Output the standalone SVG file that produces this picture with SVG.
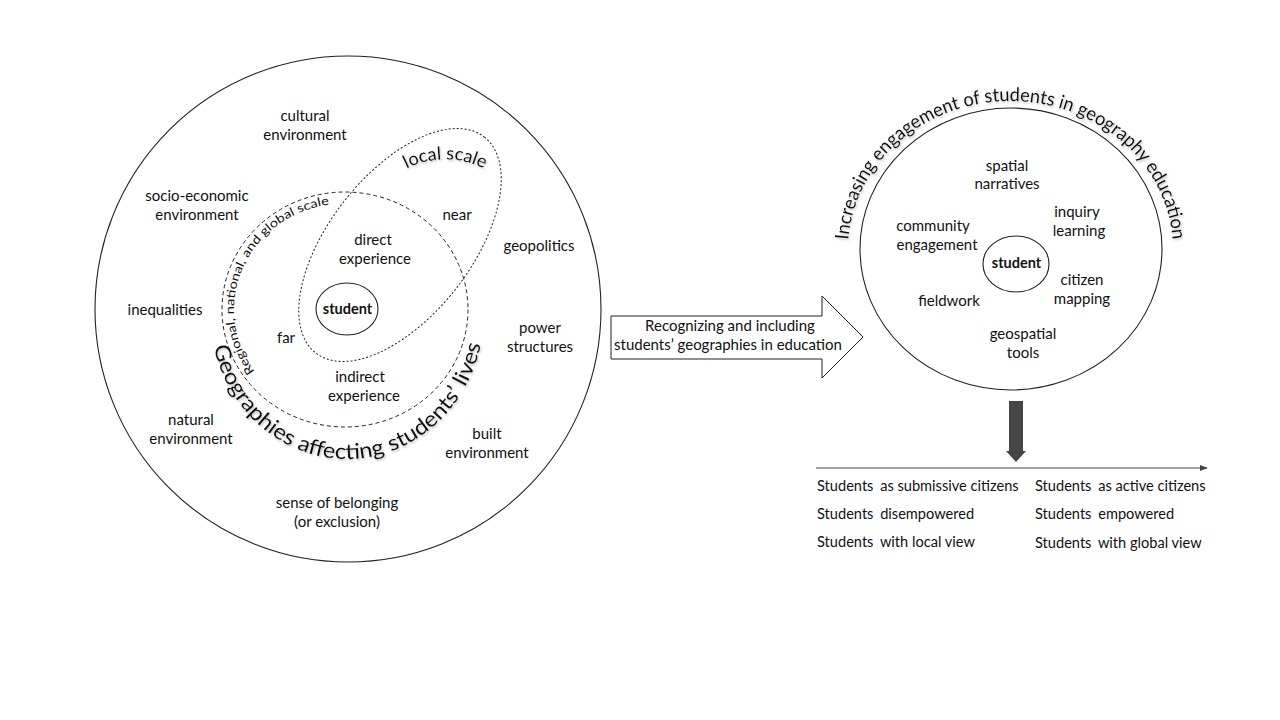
<svg xmlns="http://www.w3.org/2000/svg" xmlns:xlink="http://www.w3.org/1999/xlink" width="1280" height="720" viewBox="0 0 1280 720">
<defs>
<style>
text{font-family:Lato,"Liberation Sans",sans-serif;fill:#111;}
.t{font-size:15px;text-anchor:middle;}
.b{font-size:14.5px;text-anchor:middle;font-weight:bold;}
.l{font-size:14.6px;}
.line{fill:none;stroke:#222;stroke-width:1.1;}
.dot{fill:none;stroke:#222;stroke-width:1;stroke-dasharray:2 2;}
.dash{fill:none;stroke:#222;stroke-width:1;stroke-dasharray:4 3;}
.curve{filter:url(#sh);}
</style>
<filter id="sh" x="-20%" y="-20%" width="140%" height="140%">
<feDropShadow dx="1" dy="1.5" stdDeviation="1.2" flood-color="#888" flood-opacity="0.55"/>
</filter>
<path id="pGeo" d="M 210 313 A 137 146 0 0 0 484 313"/>
<path id="pReg" d="M 289.5 401.3 A 111 106 0 0 1 364.3 205.1"/>
<path id="pLocal" d="M 404 170 A 85 85 0 0 1 490 172"/>
<path id="pTitle" d="M 848 250 A 162.5 149 0 0 1 1173 250"/>
<marker id="ah" viewBox="0 0 10 10" refX="9" refY="5" markerWidth="8" markerHeight="8" markerUnits="userSpaceOnUse" orient="auto">
<path d="M0 1 L10 5 L0 9 Z" fill="#444"/>
</marker>
</defs>
<rect width="1280" height="720" fill="#fff"/>

<g id="left-diagram">
<ellipse class="line" cx="348" cy="309" rx="253" ry="253"/>
<g id="local-scale">
<ellipse class="dot" cx="400" cy="245" rx="137" ry="71" transform="rotate(-52 400 245)"/>
<text class="curve" style="font-size:18px"><textPath xlink:href="#pLocal" startOffset="3">local scale</textPath></text>
</g>
<g id="regional-scale">
<ellipse class="dash" cx="345" cy="309.5" rx="123" ry="117.5"/>
<text style="font-size:12px"><textPath xlink:href="#pReg" startOffset="46" textLength="221" lengthAdjust="spacingAndGlyphs">Regional, national, and global scale</textPath></text>
</g>
<g id="student-left">
<ellipse class="line" cx="347" cy="309" rx="31" ry="26"/>
<text class="b" x="347.5" y="314">student</text>
</g>
<g id="geographies-title">
<text class="curve" style="font-size:21.5px"><textPath xlink:href="#pGeo" startOffset="34" textLength="379" lengthAdjust="spacingAndGlyphs">Geographies affecting students’ lives</textPath></text>
</g>
<g id="labels-left">
<text class="t" x="305" y="121">cultural</text>
<text class="t" x="305" y="140">environment</text>
<text class="t" x="197" y="201">socio-economic</text>
<text class="t" x="197" y="220">environment</text>
<text class="t" x="165" y="315">inequalities</text>
<text class="t" x="191" y="425">natural</text>
<text class="t" x="191" y="444">environment</text>
<text class="t" x="337" y="508">sense of belonging</text>
<text class="t" x="337" y="527">(or exclusion)</text>
<text class="t" x="487" y="439">built</text>
<text class="t" x="487" y="458">environment</text>
<text class="t" x="540" y="333">power</text>
<text class="t" x="540" y="352">structures</text>
<text class="t" x="539" y="251">geopolitics</text>
<text class="t" x="457" y="220">near</text>
<text class="t" x="373" y="245">direct</text>
<text class="t" x="375" y="264">experience</text>
<text class="t" x="286" y="343">far</text>
<text class="t" x="360" y="382">indirect</text>
<text class="t" x="364" y="401">experience</text>
</g>
</g>

<g id="right-diagram">
<ellipse class="line" cx="1011" cy="249" rx="151" ry="141"/>
<text class="curve" style="font-size:19px"><textPath xlink:href="#pTitle" startOffset="10" textLength="469" lengthAdjust="spacingAndGlyphs">Increasing engagement of students in geography education</textPath></text>
<g id="student-right">
<ellipse class="line" cx="1016" cy="264" rx="33" ry="28"/>
<text class="b" x="1016.5" y="268">student</text>
</g>
<g id="labels-right">
<text class="t" x="1007" y="171">spatial</text>
<text class="t" x="1007" y="189">narratives</text>
<text class="t" x="1077" y="217">inquiry</text>
<text class="t" x="1079" y="236">learning</text>
<text class="t" x="933" y="231">community</text>
<text class="t" x="937" y="250">engagement</text>
<text class="t" x="1082" y="285">citizen</text>
<text class="t" x="1082" y="304">mapping</text>
<text class="t" x="949" y="306">fieldwork</text>
<text class="t" x="1023" y="339">geospatial</text>
<text class="t" x="1023" y="358">tools</text>
</g>
</g>

<g id="connectors">
<g id="block-arrow">
<path d="M 611 316 H 822 V 296 L 863 337 L 822 378 V 359 H 611 Z" fill="#fff" stroke="#222" stroke-width="1"/>
<text class="t" x="730" y="331">Recognizing and including</text>
<text class="t" x="728" y="350">students’ geographies in education</text>
</g>
<path id="down-arrow" d="M 1009 401 H 1023 V 451 H 1026 L 1016 462 L 1006 451 H 1009 Z" fill="#454545"/>
<line id="axis" x1="816" y1="468" x2="1207" y2="468" stroke="#444" stroke-width="1" marker-end="url(#ah)"/>
</g>

<g id="axis-labels">
<text class="l" x="817" y="491">Students <tspan dx="3">as submissive citizens</tspan></text>
<text class="l" x="817" y="519">Students <tspan dx="3">disempowered</tspan></text>
<text class="l" x="817" y="547">Students <tspan dx="3">with local view</tspan></text>
<text class="l" x="1035" y="491">Students <tspan dx="3">as active citizens</tspan></text>
<text class="l" x="1035" y="519">Students <tspan dx="3">empowered</tspan></text>
<text class="l" x="1035" y="548">Students <tspan dx="3">with global view</tspan></text>
</g>
</svg>
